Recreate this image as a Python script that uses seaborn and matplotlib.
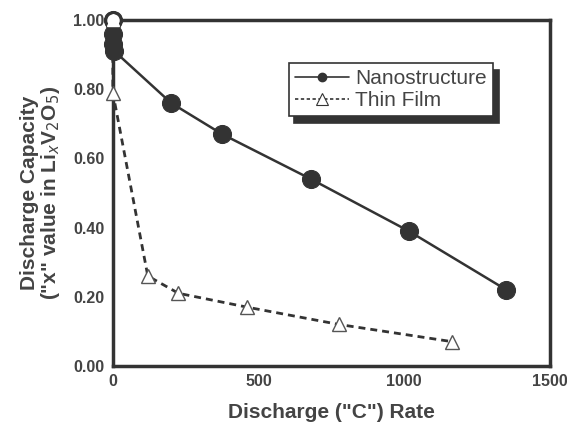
import matplotlib
matplotlib.use("Agg")
import matplotlib.pyplot as plt
import seaborn as sns
import pandas as pd
from matplotlib.lines import Line2D
from matplotlib.ticker import FormatStrFormatter

# Data
nano_rate = [0, 0, 0, 5, 200, 375, 680, 1015, 1350]
nano_x = [1.00, 0.96, 0.93, 0.91, 0.76, 0.67, 0.54, 0.39, 0.22]
film_rate = [0, 0, 120, 225, 460, 775, 1165]
film_x = [1.00, 0.79, 0.26, 0.21, 0.17, 0.12, 0.07]
x_ticks = [0, 500, 1000, 1500]
y_ticks = [0.0, 0.2, 0.4, 0.6, 0.8, 1.0]

sns.set_theme(style="white")
plt.rcParams['font.family'] = ['Liberation Sans', 'DejaVu Sans']

dark = "#333333"
txt = "#444444"

fig = plt.figure(figsize=(5.67, 4.25), dpi=100)
ax = fig.add_axes([0.199, 0.139, 0.771, 0.814])

nano = pd.DataFrame({"rate": nano_rate, "x": nano_x})
film = pd.DataFrame({"rate": film_rate, "x": film_x})

sns.lineplot(data=film, x="rate", y="x", ax=ax, estimator=None, sort=False,
             color=dark, lw=2, linestyle=(0, (2.5, 1.8)), marker="^", markersize=10,
             markerfacecolor="white", markeredgecolor="#555555", markeredgewidth=1,
             clip_on=False, zorder=3)
sns.lineplot(data=nano, x="rate", y="x", ax=ax, estimator=None, sort=False,
             color=dark, lw=1.8, marker="o", markersize=13,
             markerfacecolor=dark, markeredgecolor=dark,
             clip_on=False, zorder=4)
# open marker at the theoretical starting point
ax.plot(nano_rate[:1], nano_x[:1], marker="o", markersize=11, mfc="white",
        mec=dark, mew=2, clip_on=False, zorder=5, ls="none")
ax.plot(film_rate[:1], film_x[:1], marker="^", markersize=8, mfc="white",
        mec="white", clip_on=False, zorder=6, ls="none")

ax.set_xlim(0, 1500)
ax.set_ylim(0, 1.0)
ax.set_xticks(x_ticks)
ax.set_yticks(y_ticks)
ax.yaxis.set_major_formatter(FormatStrFormatter("%.2f"))
ax.tick_params(direction="in", length=5, width=2.5, color=dark,
               labelsize=11.5, labelcolor=txt, pad=6)
for lab in ax.get_xticklabels() + ax.get_yticklabels():
    lab.set_fontweight("bold")
for s in ax.spines.values():
    s.set_visible(True)
    s.set_color(dark)
    s.set_linewidth(2.5)

ax.set_xlabel('Discharge ("C") Rate', fontsize=15, fontweight="bold", color=txt, labelpad=10)
ax.set_ylabel('Discharge Capacity\n("x" value in Li$_x$V$_2$O$_5$)', fontsize=15,
              fontweight="bold", color=txt, labelpad=8, linespacing=1.0)

handles = [
    Line2D([], [], color=dark, lw=1.2, marker="o", markersize=6, mfc=dark, mec=dark),
    Line2D([], [], color=dark, lw=1.2, ls=(0, (2, 1.5)), marker="^", markersize=8,
           mfc="white", mec=dark, mew=0.8),
]
leg = ax.legend(handles, ["Nanostructure", "Thin Film"], loc="upper left",
                bbox_to_anchor=(0.402, 0.876), borderaxespad=0, fancybox=False,
                edgecolor=dark, framealpha=1, handlelength=2.6, handletextpad=0.3,
                borderpad=0.3, labelspacing=0.15, prop={"size": 15},
                shadow={"ox": 4, "oy": -5, "color": "#333333", "alpha": 1})
leg.get_frame().set_linewidth(1.2)
for t in leg.get_texts():
    t.set_color(txt)

fig.savefig("out.png", dpi=100)
